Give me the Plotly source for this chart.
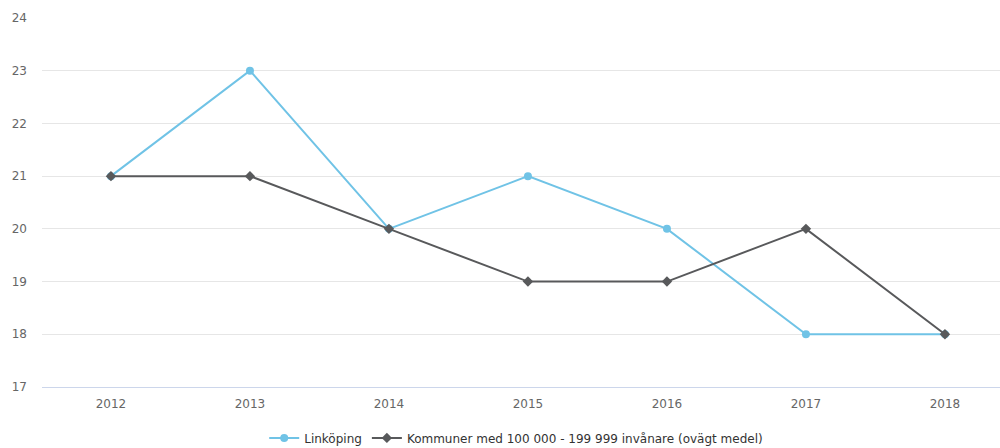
import plotly.graph_objects as go

years = ["2012", "2013", "2014", "2015", "2016", "2017", "2018"]
linkoping = [21, 23, 20, 21, 20, 18, 18]
kommuner = [21, 21, 20, 19, 19, 20, 18]

fig = go.Figure()
fig.add_trace(go.Scatter(
    x=list(range(len(years))), y=linkoping, name="Linköping", mode="lines+markers",
    line=dict(color="#70c3e6", width=2),
    marker=dict(symbol="circle", size=8, color="#70c3e6"),
))
fig.add_trace(go.Scatter(
    x=list(range(len(years))), y=kommuner, name="Kommuner med 100 000 - 199 999 invånare (ovägt medel)",
    mode="lines+markers",
    line=dict(color="#58595b", width=2),
    marker=dict(symbol="diamond", size=8, color="#58595b"),
))

fig.update_layout(
    width=1000, height=448,
    margin=dict(l=42, r=0, t=18, b=61, autoexpand=False),
    plot_bgcolor="white", paper_bgcolor="white",
    font=dict(family="DejaVu Sans", size=12, color="#666666"),
    showlegend=True,
    legend=dict(orientation="h", x=0.495, xanchor="center", y=-0.138, yanchor="middle",
                font=dict(size=12, color="#333333"), itemwidth=30),
    xaxis=dict(
        range=[-0.496, 6.396], tickmode="array", tickvals=list(range(len(years))), ticktext=years,
        showgrid=False, zeroline=False, showline=True, linecolor="#ccd6eb", linewidth=1,
        ticks="", ticklabelstandoff=6, fixedrange=True, automargin=False,
    ),
    yaxis=dict(
        range=[17, 24], dtick=1, showgrid=True, gridcolor="#e6e6e6", gridwidth=1,
        zeroline=False, showline=False, ticks="", ticklabelstandoff=14, automargin=False,
        tickfont=dict(size=12, color="#666666"),
    ),
)
fig.write_html("out.html", config={"displayModeBar": False},
               post_script="document.body.style.margin='0';document.body.style.overflow='hidden';")
